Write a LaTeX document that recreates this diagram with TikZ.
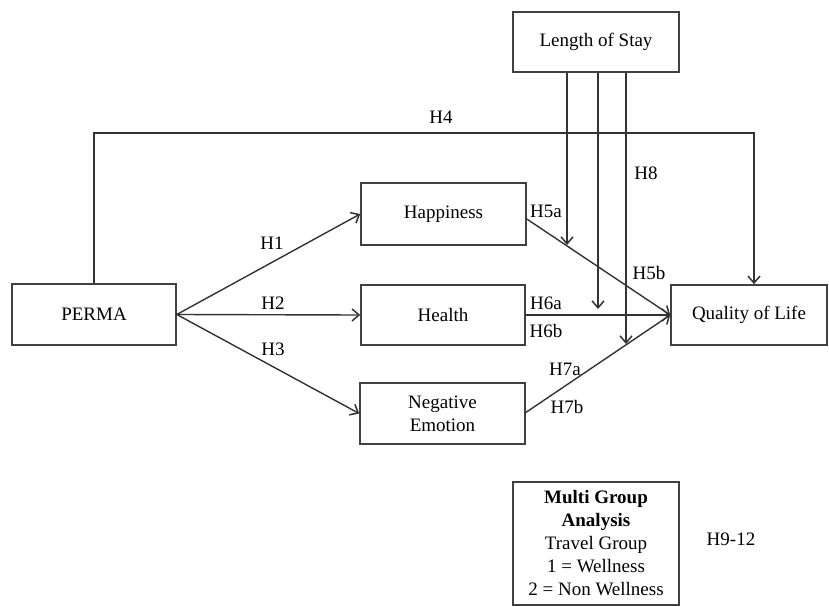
\documentclass[tikz,border=0pt]{standalone}
\usepackage{fontspec}
\setmainfont{Liberation Serif}
\usetikzlibrary{arrows.meta,calc}
\begin{document}
\begin{tikzpicture}[x=1pt,y=-1pt,
  font=\fontsize{19}{23}\selectfont,
  box/.style={draw=black!75,line width=1.6pt,fill=white,align=center,inner sep=0pt},
  link/.style={draw=black!80,line width=1.4pt,-{Straight Barb[length=7pt,width=12pt,line width=1.5pt]}},
  lbl/.style={inner sep=0pt,anchor=center}]
\useasboundingbox (0,0) rectangle (829,607);

% constructs
\node[box,minimum width=166pt,minimum height=60pt] (los) at (596,42) {Length of Stay};
\node[box,minimum width=165pt,minimum height=62pt] (hap) at (443.5,214) {Happiness};
\node[box,minimum width=164pt,minimum height=60pt] (hea) at (443,315) {Health};
\node[box,minimum width=165pt,minimum height=61pt] (neg) at (442.5,413.5) {Negative\\Emotion};
\node[box,minimum width=164pt,minimum height=61pt] (perma) at (94,314.5) {PERMA};
\node[box,minimum width=156pt,minimum height=60pt] (qol) at (749,315) {Quality of Life};
\node[box,minimum width=166pt,minimum height=123pt] (mga) at (596,543.5)
  {\textbf{Multi Group}\\\textbf{Analysis}\\Travel Group\\1 = Wellness\\2 = Non Wellness};

% PERMA to mediators
\draw[link] (perma.east) -- (hap.west);
\draw[link] (perma.east) -- (hea.west);
\draw[link] (perma.east) -- (neg.west);

% direct path H4
\coordinate (h4) at (754,133);
\draw[link] (perma.north) -- (perma.north |- h4) -- (h4) -- (h4 |- qol.north);

% mediators to quality of life
\draw[link] ([yshift=-5pt]hap.east) -- (qol.west);
\draw[link] (hea.east) -- (qol.west);
\draw[link] ([yshift=1pt]neg.east) -- (qol.west);

% moderation by length of stay
\coordinate (m1) at (567,245);
\coordinate (m2) at (598,309);
\coordinate (m3) at (626,344);
\draw[link] (los.south -| m1) -- (m1);
\draw[link] (los.south -| m2) -- (m2);
\draw[link] (los.south -| m3) -- (m3);

% hypothesis labels
\node[lbl] (lh1) at (272,243) {H1};
\node[lbl] (lh2) at (273,303) {H2};
\node[lbl] (lh3) at (273,349) {H3};
\node[lbl] (lh4) at (441,117) {H4};
\node[lbl] (lh5a) at (546,211) {H5a};
\node[lbl] (lh5b) at (649,273) {H5b};
\node[lbl] (lh6a) at (546,303) {H6a};
\node[lbl] (lh6b) at (546,331) {H6b};
\node[lbl] (lh7a) at (565,369) {H7a};
\node[lbl] (lh7b) at (567,407) {H7b};
\node[lbl] (lh8) at (646,173) {H8};
\node[lbl] (lh9) at (731,539) {H9-12};
\end{tikzpicture}
\end{document}
